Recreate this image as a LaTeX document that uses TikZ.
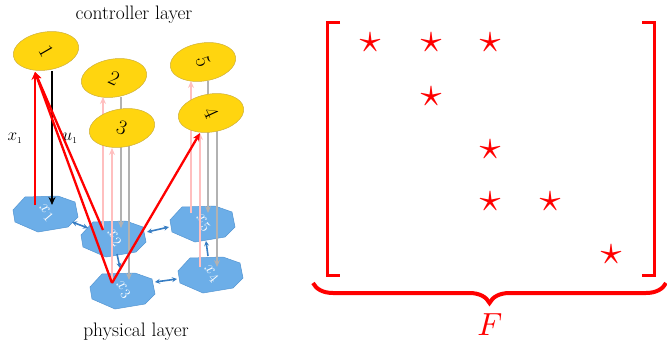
\documentclass[tikz,border=0pt]{standalone}
\usetikzlibrary{shapes.geometric,arrows.meta,decorations.pathreplacing}
\definecolor{gold}{RGB}{255,213,15}
\definecolor{goldedge}{RGB}{205,175,60}
\definecolor{octblue}{RGB}{108,174,232}
\definecolor{octedge}{RGB}{85,150,210}
\definecolor{linkblue}{RGB}{55,125,195}
\tikzset{
  ctrl/.style={ellipse,draw=goldedge,line width=0.5pt,fill=gold,minimum width=66pt,minimum height=38pt,inner sep=0pt,rotate=9},
  octa/.style={draw=octedge,line width=0.5pt,fill=octblue},
  ctrllbl/.style={font=\fontsize{20}{20}\selectfont,inner sep=0pt},
  plantlbl/.style={text=white,font=\fontsize{19}{19}\selectfont,inner sep=0pt},
  redarrow/.style={draw=red,line width=2.3pt,-{Stealth[length=8pt,width=7pt]}},
  pinkarrow/.style={draw=red!25,line width=1.8pt,-{Stealth[length=7pt,width=6pt]}},
  grayarrow/.style={draw=black!30,line width=1.8pt,-{Stealth[length=7pt,width=6pt]}},
  blackarrow/.style={draw=black,line width=1.8pt,-{Stealth[length=8pt,width=7pt]}},
  link/.style={draw=linkblue,line width=1.6pt,{Stealth[length=5pt,width=5pt]}-{Stealth[length=5pt,width=5pt]}},
  linkone/.style={draw=linkblue,line width=1.6pt,-{Stealth[length=5pt,width=5pt]}},
  layerlbl/.style={font=\fontsize{19.5}{22}\selectfont},
  brk/.style={draw=red,line width=3pt},
  stars/.style={text=red,scale=4.2,inner sep=0pt}
}
\newcommand\octshape[1]{\draw[octa,shift={(#1)}] (-33,-3) -- (-21,-16) -- (12,-17) -- (29,-11) -- (32,4) -- (22,14) -- (-8,19) -- (-31,9) -- cycle;}
\begin{document}
\begin{tikzpicture}[x=1pt,y=-1pt]
\useasboundingbox (0,0) rectangle (667,343);
% octagons (physical layer)
\coordinate (o1) at (46,213);
\coordinate (o2) at (114,238);
\coordinate (o3) at (123,290);
\coordinate (o5) at (203,223);
\coordinate (o4) at (211,274);
\octshape{o1}\octshape{o2}\octshape{o3}\octshape{o5}\octshape{o4}
\node[plantlbl,rotate=-50] (p1) at (o1) {$x_1$};
\node[plantlbl,rotate=-50] (p2) at (o2) {$x_2$};
\node[plantlbl,rotate=-50] (p3) at (o3) {$x_3$};
\node[plantlbl,rotate=-50] (p5) at (o5) {$x_5$};
\node[plantlbl,rotate=-50] (p4) at (o4) {$x_4$};
% links between subsystems
\coordinate (l12a) at (72,222); \coordinate (l12b) at (88,228);
\coordinate (l25a) at (147,232); \coordinate (l25b) at (169,227);
\coordinate (l23a) at (117,254); \coordinate (l23b) at (120,268);
\coordinate (l34a) at (155,282); \coordinate (l34b) at (177,279);
\coordinate (l45a) at (208,256); \coordinate (l45b) at (206,241);
\draw[link] (l12a) -- (l12b);
\draw[link] (l25a) -- (l25b);
\draw[linkone] (l23a) -- (l23b);
\draw[link] (l34a) -- (l34b);
\draw[linkone] (l45a) -- (l45b);
% connection points
\coordinate (x1s) at (35,205); \coordinate (e1t) at (35,72);
\coordinate (e1u) at (52,71); \coordinate (x1u) at (52,205);
\coordinate (x2s) at (103,230); \coordinate (e2s) at (103,97);
\coordinate (e2u) at (121,97); \coordinate (x2u) at (121,228);
\coordinate (x3s) at (112,283); \coordinate (e3s) at (112,148);
\coordinate (e3u) at (129,146); \coordinate (x3u) at (129,280);
\coordinate (x5s) at (191,213); \coordinate (e5s) at (191,81);
\coordinate (e5u) at (208,81); \coordinate (x5u) at (208,213);
\coordinate (x4s) at (200,267); \coordinate (e4s) at (200,133);
\coordinate (e4u) at (217,131); \coordinate (x4u) at (217,267);
% faded signals
\draw[pinkarrow] (x2s) -- (e2s);
\draw[pinkarrow] (x3s) -- (e3s);
\draw[pinkarrow] (x5s) -- (e5s);
\draw[pinkarrow] (x4s) -- (e4s);
\draw[grayarrow] (e2u) -- (x2u);
\draw[grayarrow] (e3u) -- (x3u);
\draw[grayarrow] (e5u) -- (x5u);
\draw[grayarrow] (e4u) -- (x4u);
% highlighted signals
\draw[blackarrow] (e1u) -- (x1u);
\draw[redarrow] (x1s) -- (e1t);
\draw[redarrow] (x2s) -- (e1t);
\draw[redarrow] (x3s) -- (e1t);
\draw[redarrow] (x3s) -- (e4s);
% controllers
\node[ctrl] (e1) at (46,51) {};
\node[ctrl] (e2) at (114,78) {};
\node[ctrl] (e3) at (122,128) {};
\node[ctrl] (e5) at (203,62) {};
\node[ctrl] (e4) at (211,113) {};
\node[ctrllbl,rotate=-60] (c1) at (e1) {$1$};
\node[ctrllbl,rotate=-25] (c2) at (e2) {$2$};
\node[ctrllbl,rotate=-20] (c3) at (e3) {$3$};
\node[ctrllbl,rotate=-70] (c5) at (e5) {$5$};
\node[ctrllbl,rotate=-65] (c4) at (e4) {$4$};
% signal labels
\node[font=\fontsize{19}{19}\selectfont] (xl) at (15,138) {$x_{\scriptscriptstyle 1}$};
\node[font=\fontsize{19}{19}\selectfont] (ul) at (70,138) {$u_{\scriptscriptstyle 1}$};
% layer titles
\node[layerlbl] (ctl) at (134,15) {controller layer};
\node[layerlbl] (phl) at (136,332) {physical layer};
% matrix F
\draw[brk] (340,22) -- (327,22) -- (327,275) -- (340,275);
\draw[brk] (642,22) -- (654,22) -- (654,275) -- (642,275);
\node[stars] (s11) at (370,43) {$\star$};
\node[stars] (s12) at (431,43) {$\star$};
\node[stars] (s13) at (490,43) {$\star$};
\node[stars] (s22) at (431,97) {$\star$};
\node[stars] (s33) at (490,150) {$\star$};
\node[stars] (s43) at (490,202) {$\star$};
\node[stars] (s44) at (550,202) {$\star$};
\node[stars] (s55) at (611,255) {$\star$};
\coordinate (bl) at (313,283);
\coordinate (br) at (666,283);
\draw[draw=red,line width=4pt,decorate,decoration={brace,mirror,amplitude=20pt}] (bl) -- (br);
\node[text=red,scale=3.2] (F) at (490,325) {$F$};
\end{tikzpicture}
\end{document}
